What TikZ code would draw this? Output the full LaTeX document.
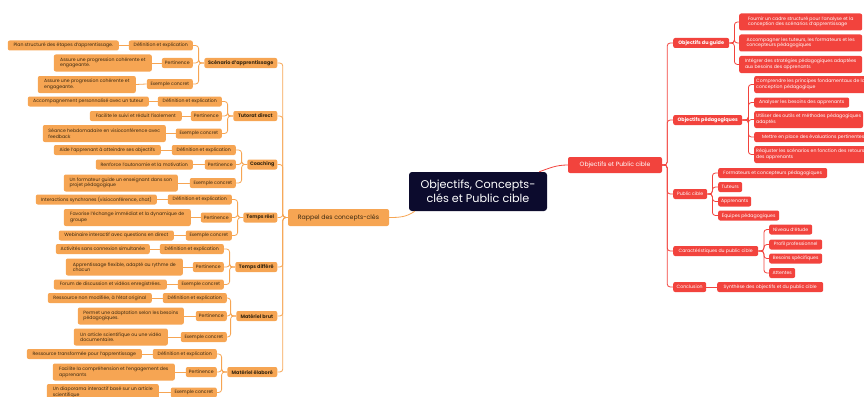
\documentclass[tikz,border=0pt]{standalone}
\usepackage{fontspec}
\setmainfont{Poppins}
\usetikzlibrary{calc}
\definecolor{org}{HTML}{F6A553}
\definecolor{orgtxt}{HTML}{3A2810}
\definecolor{rd}{HTML}{F2433D}
\definecolor{navy}{HTML}{0C0B2D}
\tikzset{
 base/.style={rounded corners=2pt, inner xsep=2pt, inner ysep=1pt, align=left, font=\fontsize{4.65}{5.6}\selectfont},
 oleaf/.style={base, fill=org, text=orgtxt, minimum height=10pt},
 olab/.style={oleaf, anchor=east},
 obig/.style={oleaf, anchor=east, font=\fontsize{4.9}{5.8}\selectfont\bfseries},
 rnode/.style={base, fill=rd, text=white, minimum height=10pt, anchor=west},
 rbig/.style={rnode, font=\fontsize{4.9}{5.8}\selectfont\bfseries},
 two/.style={minimum height=17pt},
 defw/.style={minimum width=64pt},
 perw/.style={minimum width=31pt},
 exw/.style={minimum width=46pt},
 oline/.style={draw=org, line width=0.8pt, rounded corners=3pt},
 rline/.style={draw=rd, line width=0.8pt, rounded corners=3pt},
}
\begin{document}
\begin{tikzpicture}[x=1pt,y=-1pt]
\path[use as bounding box] (0,0) rectangle (864,396);
\clip (0,0) rectangle (864,396);
% centre
\node[fill=navy, text=white, rounded corners=3pt, minimum width=138pt, minimum height=39pt, align=center, inner sep=1pt, font=\fontsize{11.2}{14.5}\selectfont] (c) at (478,191.5) {Objectifs, Concepts-\\clés et Public cible};
\node[base, fill=rd, text=white, minimum width=94pt, minimum height=16pt, font=\fontsize{6.1}{7}\selectfont] (opc) at (615,165) {Objectifs et Public cible};
\node[base, fill=org, text=orgtxt, minimum width=101pt, minimum height=17pt, font=\fontsize{6.2}{7}\selectfont] (rap) at (338.5,217.5) {Rappel des concepts-clés};
% right level 2
\node[rbig, minimum width=56pt] (og) at (673,43) {Objectifs du guide};
\node[rbig, minimum width=69pt] (op) at (673,120) {Objectifs pédagogiques};
\node[rnode, minimum width=34pt] (pc) at (673,194) {Public cible};
\node[rnode, minimum width=85pt] (cp) at (673,251) {Caractéristiques du public cible};
\node[rnode, minimum width=33pt] (cc) at (673,287) {Conclusion};
% right level 3
\node[rnode, two, minimum width=123pt] (og1) at (739,22) {Fournir un cadre structuré pour l'analyse et la\\conception des scénarios d'apprentissage};
\node[rnode, two, minimum width=123pt] (og2) at (739,43) {Accompagner les tuteurs, les formateurs et les\\concepteurs pédagogiques};
\node[rnode, two, minimum width=123pt] (og3) at (739,64.5) {Intégrer des stratégies pédagogiques adaptées\\aux besoins des apprenants};
\node[rnode, two] (op1) at (754,84.5) {Comprendre les principes fondamentaux de la\\conception pédagogique};
\node[rnode, minimum width=95pt] (op2) at (754,102.5) {Analyser les besoins des apprenants};
\node[rnode, two] (op3) at (754,119.5) {Utiliser des outils et méthodes pédagogiques\\adaptés};
\node[rnode, minimum width=118pt] (op4) at (754,137) {Mettre en place des évaluations pertinentes};
\node[rnode, two] (op5) at (754,154.5) {Réajuster les scénarios en fonction des retours\\des apprenants};
\node[rnode, minimum width=109pt] (pc1) at (718,173) {Formateurs et concepteurs pédagogiques};
\node[rnode, minimum width=24pt] (pc2) at (718,187) {Tuteurs};
\node[rnode, minimum width=33pt] (pc3) at (718,201.5) {Apprenants};
\node[rnode, minimum width=61pt] (pc4) at (718,215.5) {Équipes pédagogiques};
\node[rnode, minimum width=43pt] (cp1) at (769,229.5) {Niveau d'étude};
\node[rnode, minimum width=53pt] (cp2) at (769,244.5) {Profil professionnel};
\node[rnode, minimum width=53pt] (cp3) at (769,258.5) {Besoins spécifiques};
\node[rnode, minimum width=26pt] (cp4) at (769,273) {Attentes};
\node[rnode, minimum width=106pt] (cc1) at (717,287) {Synthèse des objectifs et du public cible};
% right connectors
\draw[rline] ($(c.north east)+(-8,0)$) to[out=20,in=180] (opc.west);
\foreach \t in {og,op,pc,cp,cc} \draw[rline] (opc.east) -- ++(5,0) |- (\t.west);
\foreach \t in {og1,og2,og3} \draw[rline] (og.east) -- ++(5,0) |- (\t.west);
\foreach \t in {op1,op2,op3,op4,op5} \draw[rline] (op.east) -- ++(6,0) |- (\t.west);
\foreach \t in {pc1,pc2,pc3,pc4} \draw[rline] (pc.east) -- ++(5,0) |- (\t.west);
\foreach \t in {cp1,cp2,cp3,cp4} \draw[rline] (cp.east) -- ++(5.5,0) |- (\t.west);
\draw[rline] (cc.east) -- (cc1.west);
% left level 2
\node[obig, minimum width=73pt] (sc) at (277.5,63) {Scénario d'apprentissage};
\node[obig, minimum width=44pt] (tu) at (277.5,116) {Tutorat direct};
\node[obig, minimum width=30pt] (co) at (277.5,164.5) {Coaching};
\node[obig, minimum width=34pt] (tr) at (277.5,217.5) {Temps réel};
\node[obig, minimum width=42pt] (td) at (277.5,267) {Temps différé};
\node[obig, minimum width=41pt] (mb) at (277.5,316) {Matériel brut};
\node[obig, minimum width=50pt] (me) at (277.5,372) {Matériel élaboré};
% Scénario
\node[olab, defw] (sc1) at (193,45.5) {Définition et explication};
\node[olab, perw] (sc2) at (193,63) {Pertinence};
\node[olab, exw] (sc3) at (193,84) {Exemple concret};
\node[olab, minimum width=111pt] (sl1) at (119,45.5) {Plan structuré des étapes d'apprentissage.};
\node[olab, two, minimum width=98pt] (sl2) at (152,63) {Assure une progression cohérente et\\engageante.};
\node[olab, two, minimum width=98pt] (sl3) at (136,84.5) {Assure une progression cohérente et\\engageante.};
% Tutorat
\node[olab, defw] (tu1) at (222,101.5) {Définition et explication};
\node[olab, perw] (tu2) at (222,116) {Pertinence};
\node[olab, exw] (tu3) at (222,133.5) {Exemple concret};
\node[olab, minimum width=121pt] (tl1) at (149,101.5) {Accompagnement personnalisé avec un tuteur};
\node[olab, minimum width=92pt] (tl2) at (182,116) {Facilite le suivi et réduit l'isolement};
\node[olab, two, minimum width=123pt] (tl3) at (166,133.5) {Séance hebdomadaire en visioconférence avec\\feedback};
% Coaching
\node[olab, defw] (co1) at (236,150) {Définition et explication};
\node[olab, perw] (co2) at (236,164.5) {Pertinence};
\node[olab, exw] (co3) at (236,183) {Exemple concret};
\node[olab, minimum width=107pt] (cl1) at (161,150) {Aide l'apprenant à atteindre ses objectifs};
\node[olab, minimum width=97pt] (cl2) at (193,164.5) {Renforce l'autonomie et la motivation};
\node[olab, two, minimum width=114pt] (cl3) at (178,183) {Un formateur guide un enseignant dans son\\projet pédagogique};
% Temps réel
\node[olab, defw] (tr1) at (232,199.5) {Définition et explication};
\node[olab, perw] (tr2) at (232,217.5) {Pertinence};
\node[olab, exw] (tr3) at (232,235.5) {Exemple concret};
\node[olab, minimum width=121pt] (rl1) at (157,199.5) {Interactions synchrones (visioconférence, chat)};
\node[olab, two, minimum width=127pt] (rl2) at (191,217.5) {Favorise l'échange immédiat et la dynamique de\\groupe};
\node[olab, minimum width=115pt] (rl3) at (174,235.5) {Webinaire interactif avec questions en direct};
% Temps différé
\node[olab, defw] (td1) at (224,249) {Définition et explication};
\node[olab, perw] (td2) at (224,267) {Pertinence};
\node[olab, exw] (td3) at (224,284.5) {Exemple concret};
\node[olab, minimum width=94pt] (dl1) at (150,249) {Activités sans connexion simultanée};
\node[olab, two, minimum width=117pt] (dl2) at (183,267) {Apprentissage flexible, adapté au rythme de\\chacun};
\node[olab, minimum width=113pt] (dl3) at (167,284.5) {Forum de discussion et vidéos enregistrées.};
% Matériel brut
\node[olab, defw] (mb1) at (227,298) {Définition et explication};
\node[olab, perw] (mb2) at (227,316) {Pertinence};
\node[olab, exw] (mb3) at (227,337) {Exemple concret};
\node[olab, minimum width=104pt] (bl1) at (152,298) {Ressource non modifiée, à l'état original};
\node[olab, two, minimum width=106pt] (bl2) at (184,316) {Permet une adaptation selon les besoins\\pédagogiques.};
\node[olab, two, minimum width=94pt] (bl3) at (168,337) {Un article scientifique ou une vidéo\\documentaire.};
% Matériel élaboré
\node[olab, defw] (me1) at (217,354) {Définition et explication};
\node[olab, perw] (me2) at (217,372) {Pertinence};
\node[olab, exw] (me3) at (217,392.5) {Exemple concret};
\node[olab, minimum width=115pt] (el1) at (142,354) {Ressource transformée pour l'apprentissage};
\node[olab, two, minimum width=122pt] (el2) at (175,372) {Facilite la compréhension et l'engagement des\\apprenants};
\node[olab, two, minimum width=112pt] (el3) at (159,392.5) {Un diaporama interactif basé sur un article\\scientifique};
% left connectors
\draw[oline] (rap.east) to[out=0,in=215] ($(c.south west)+(6,0)$);
\foreach \t in {sc,tu,co,tr,td,mb,me} \draw[oline] (rap.west) -- ++(-5,0) |- (\t.east);
\foreach \p in {sc,tu,co,tr,td,mb,me} {
  \foreach \i in {1,2,3} \draw[oline] (\p.west) -- ++(-5.5,0) |- (\p\i.east);
}
\foreach \a/\b in {sc1/sl1,sc2/sl2,sc3/sl3,tu1/tl1,tu2/tl2,tu3/tl3,co1/cl1,co2/cl2,co3/cl3,tr1/rl1,tr2/rl2,tr3/rl3,td1/dl1,td2/dl2,td3/dl3,mb1/bl1,mb2/bl2,mb3/bl3,me1/el1,me2/el2,me3/el3}
  \draw[oline] (\a.west) -- (\b.east);
\end{tikzpicture}
\end{document}
